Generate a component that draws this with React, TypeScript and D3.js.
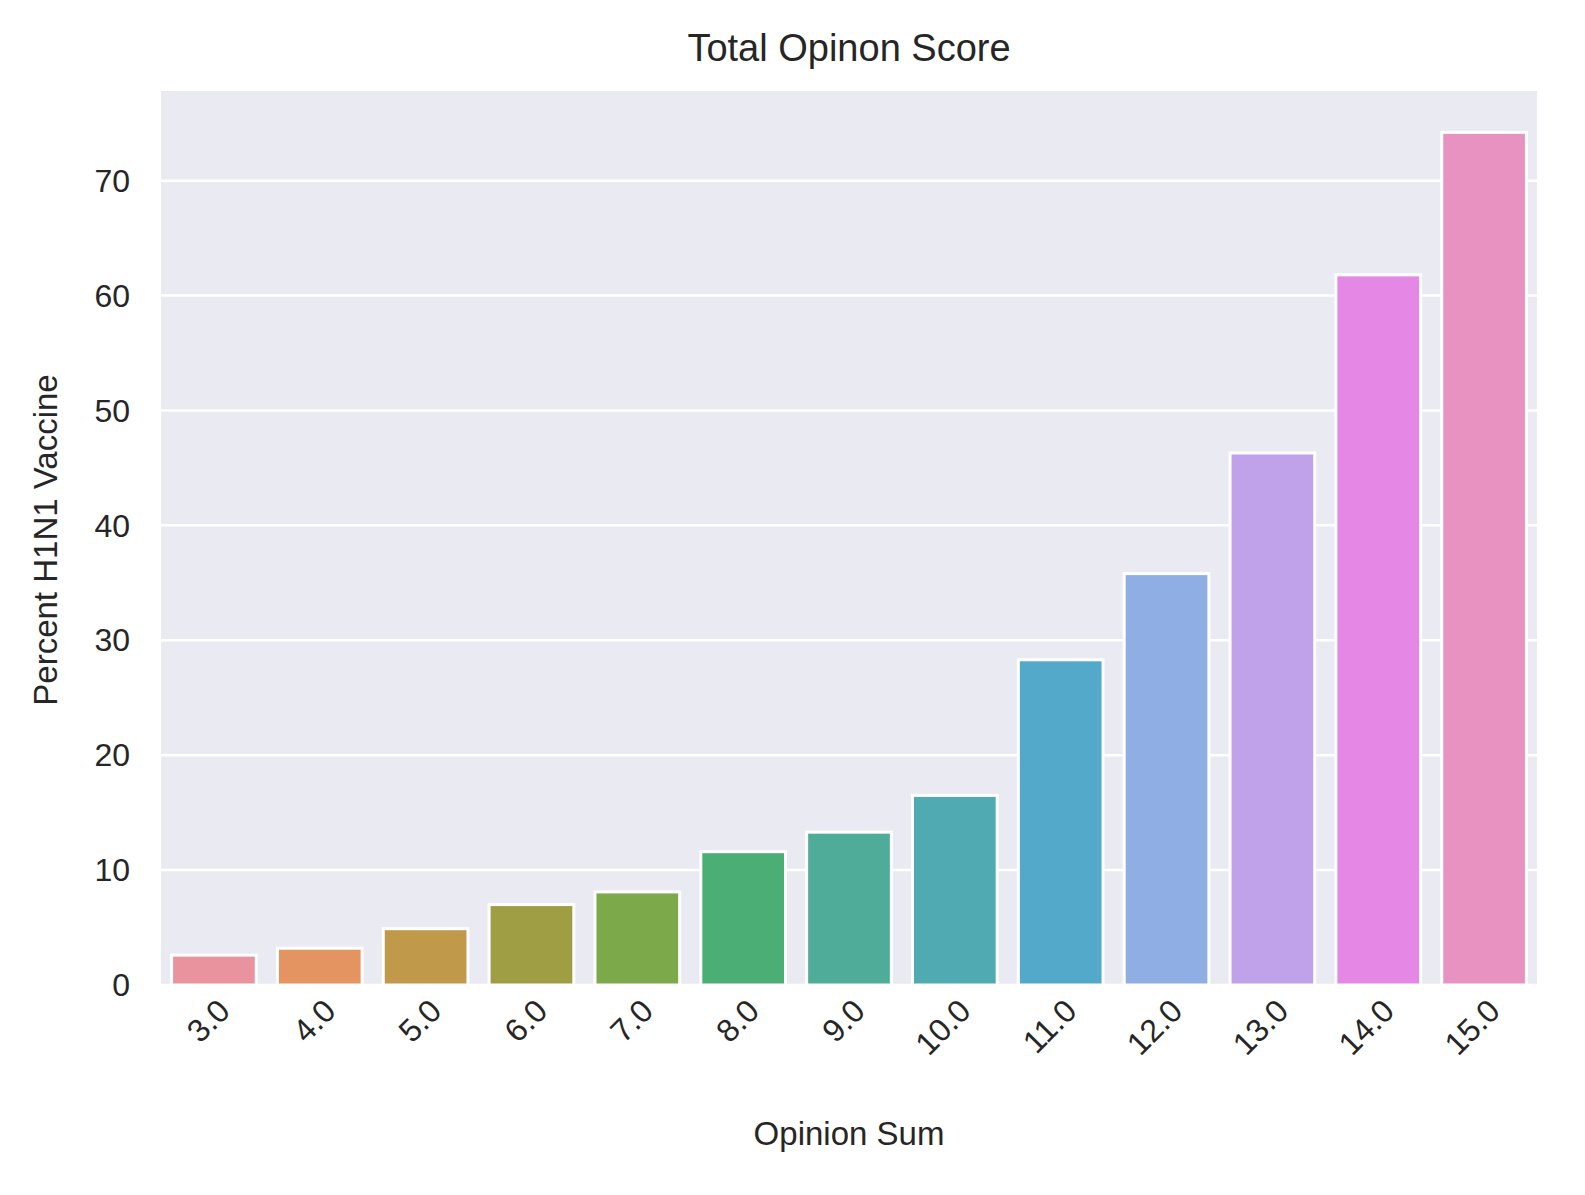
import React from "react"
import * as d3 from "d3"

const categories = ["3.0", "4.0", "5.0", "6.0", "7.0", "8.0", "9.0", "10.0", "11.0", "12.0", "13.0", "14.0", "15.0"]
const values = [2.6, 3.2, 4.9, 7.0, 8.1, 11.6, 13.3, 16.5, 28.3, 35.8, 46.3, 61.8, 74.2]
const colors = ["#e8939e", "#e39461", "#c0994a", "#a09e44", "#7ca949", "#4bae75", "#4eac98", "#4fabb1", "#53a9c9", "#8faee4", "#bfa2ea", "#e588e5", "#e892c2"]
const yTicks = [0, 10, 20, 30, 40, 50, 60, 70]

const W = 1585, H = 1195
const left = 161, right = 1537, top = 91, bottom = 985

const App: React.FC = () => {
	const x = d3.scaleBand<string>().domain(categories).range([left, right]).paddingInner(0.2).paddingOuter(0.1)
	const y = d3.scaleLinear().domain([0, 77.8]).range([bottom, top])
	const font = "'Liberation Sans', Arial, sans-serif"
	return (
		<svg width={W} height={H} style={{ position: "absolute", left: 0, top: 0 }} fontFamily={font}>
			<rect x={0} y={0} width={W} height={H} fill="#fff" />
			<rect x={left} y={top} width={right - left} height={bottom - top} fill="#eaeaf2" />
			{yTicks.map((t) => (
				<g key={t}>
					<line x1={left} x2={right} y1={y(t)} y2={y(t)} stroke="#fff" strokeWidth={2.5} />
					<text x={left - 31} y={y(t)} dy="0.35em" textAnchor="end" fontSize={32} fill="#262626">{t}</text>
				</g>
			))}
			{categories.map((c, i) => (
				<rect key={c} x={x(c)!} width={x.bandwidth()} y={y(values[i])} height={y(0) - y(values[i])}
					fill={colors[i]} stroke="#fff" strokeWidth={3} />
			))}
			{categories.map((c) => {
				const cx = x(c)! + x.bandwidth() / 2
				return (
					<text key={c} transform={`translate(${cx + 2},${bottom + 12}) rotate(-45)`} textAnchor="end"
						dy="0.7em" fontSize={32} fill="#262626">{c}</text>
				)
			})}
			<text x={(left + right) / 2} y={48} dy="0.35em" textAnchor="middle" fontSize={38} fill="#262626">Total Opinon Score</text>
			<text x={(left + right) / 2} y={1133} dy="0.35em" textAnchor="middle" fontSize={33} fill="#262626">Opinion Sum</text>
			<text transform={`translate(45,${(top + bottom) / 2 + 2}) rotate(-90)`} dy="0.35em" textAnchor="middle" fontSize={33} fill="#262626">Percent H1N1 Vaccine</text>
		</svg>
	)
}

export default App
